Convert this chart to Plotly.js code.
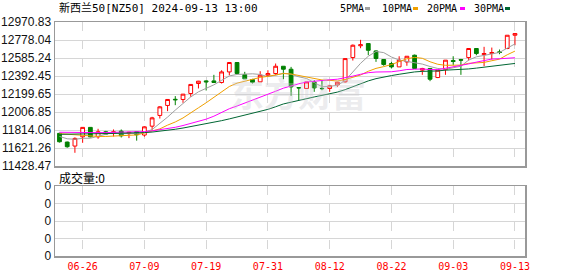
<!DOCTYPE html>
<html>
<head>
<meta charset="utf-8">
<script src="https://cdn.plot.ly/plotly-3.0.1.min.js"></script>
<style>html,body{margin:0;padding:0;background:#fff;}#chart{width:578px;height:276px;}</style>
</head>
<body>
<div id="chart"></div>
<script>
// ---- data ----
const dates = ["2024-06-21","2024-06-24","2024-06-25","2024-06-26","2024-06-27","2024-07-01","2024-07-02","2024-07-03","2024-07-04","2024-07-05",
"2024-07-08","2024-07-09","2024-07-10","2024-07-11","2024-07-12","2024-07-15","2024-07-16","2024-07-17","2024-07-18","2024-07-19",
"2024-07-22","2024-07-23","2024-07-24","2024-07-25","2024-07-26","2024-07-29","2024-07-30","2024-07-31","2024-08-01","2024-08-02",
"2024-08-05","2024-08-06","2024-08-07","2024-08-08","2024-08-09","2024-08-12","2024-08-13","2024-08-14","2024-08-15","2024-08-16",
"2024-08-19","2024-08-20","2024-08-21","2024-08-22","2024-08-23","2024-08-26","2024-08-27","2024-08-28","2024-08-29","2024-08-30",
"2024-09-02","2024-09-03","2024-09-04","2024-09-05","2024-09-06","2024-09-09","2024-09-10","2024-09-11","2024-09-12","2024-09-13"];
const opens = [11778,11685,11642,11741,11842,11741,11795,11780,11802,11775,11795,11760,11855,11970,12077,12143,12141,12205,12312,12340,
12340,12323,12436,12537,12408,12355,12330,12401,12419,12497,12465,12268,12259,12326,12260,12259,12297,12330,12590,12716,
12740,12661,12569,12526,12490,12543,12615,12455,12473,12376,12462,12558,12568,12590,12687,12622,12633,12651,12687,12829];
const highs = [11785,11690,11735,11845,11845,11827,11805,11820,11820,11795,11797,11855,11955,12070,12145,12177,12200,12305,12340,12345,
12405,12454,12540,12540,12437,12362,12444,12454,12526,12497,12490,12270,12329,12347,12347,12294,12330,12582,12730,12780,
12740,12668,12569,12544,12604,12604,12622,12480,12473,12455,12562,12604,12576,12687,12687,12705,12697,12676,12829,12847];
const lows = [11680,11624,11570,11677,11735,11720,11760,11745,11734,11727,11700,11742,11812,11937,12016,12080,12105,12170,12259,12237,
12320,12312,12400,12415,12360,12312,12330,12383,12401,12358,12180,12134,12255,12223,12240,12223,12276,12322,12558,12690,
12616,12544,12502,12473,12490,12502,12473,12405,12337,12370,12405,12512,12405,12558,12615,12498,12569,12626,12680,12722];
const closes = [11688,11635,11724,11842,11741,11795,11770,11795,11752,11790,11763,11848,11944,12062,12141,12138,12198,12302,12337,12330,
12323,12436,12537,12419,12362,12326,12401,12419,12497,12465,12276,12265,12329,12265,12257,12287,12326,12579,12722,12727,
12668,12580,12516,12490,12562,12604,12473,12473,12358,12455,12562,12548,12562,12687,12633,12633,12644,12644,12829,12847];
const ma5 = [11745,11720,11715,11725,11726,11747,11774,11789,11771,11780,11774,11790,11819,11881,11952,12027,12097,12168,12223,12261,
12298,12346,12393,12409,12415,12416,12409,12385,12401,12422,12412,12384,12366,12320,12278,12281,12293,12343,12434,12528,
12604,12655,12643,12596,12563,12550,12529,12520,12494,12473,12464,12479,12497,12563,12598,12613,12632,12645,12691,12736];
const ma10 = [11775,11768,11760,11755,11748,11745,11745,11748,11748,11753,11761,11782,11804,11826,11866,11900,11943,11994,12052,12106,
12162,12221,12280,12316,12338,12357,12377,12389,12405,12419,12414,12397,12376,12361,12350,12346,12339,12355,12377,12403,
12443,12474,12493,12515,12546,12577,12592,12582,12545,12518,12507,12504,12509,12528,12536,12538,12556,12573,12620,12659];
const ma20 = [11790,11788,11785,11785,11785,11786,11787,11788,11788,11790,11792,11797,11805,11815,11828,11843,11862,11884,11907,11930,
11962,12002,12042,12071,12102,12129,12160,12191,12229,12262,12288,12309,12328,12338,12344,12352,12358,12372,12391,12411,
12428,12435,12434,12438,12448,12462,12465,12468,12461,12461,12475,12489,12501,12522,12541,12558,12574,12577,12582,12588];
const ma30 = [11768,11768,11770,11772,11773,11775,11776,11777,11778,11780,11782,11786,11792,11800,11810,11822,11835,11850,11864,11880,
11896,11914,11933,11953,11972,11990,12010,12035,12063,12093,12112,12133,12153,12168,12185,12201,12220,12246,12278,12309,
12340,12364,12383,12397,12411,12427,12436,12442,12442,12447,12455,12458,12459,12468,12477,12487,12495,12503,12514,12527];
const volumes = new Array(60).fill(0);
const priceTicks = [11428.47,11621.26,11814.06,12006.85,12199.65,12392.45,12585.24,12778.04,12970.83];
const priceTickText = ["11428.47","11621.26","11814.06","12006.85","12199.65","12392.45","12585.24","12778.04","12970.83"];
const dateTicks = ["2024-06-26","2024-07-09","2024-07-19","2024-07-31","2024-08-12","2024-08-22","2024-09-03","2024-09-13"];
const dateTickText = ["06-26","07-09","07-19","07-31","08-12","08-22","09-03","09-13"];
const volTicks = [0,1,2,3,4];
const volTickText = ["0","0","0","0","0"];
const titleText = "新西兰50[NZ50] 2024-09-13 13:00";
const volTitle = "成交量:0";
const legendNames = ["5PMA","10PMA","20PMA","30PMA"];
const maColors = ["#a0a0a0","#f0a000","#ff00ff","#006633"];

// ---- layout helpers (pixel -> paper) ----
const W = 578, H = 276, ML = 55, MR = 53, MT = 22, MB = 20;
const PW = W - ML - MR, PH = H - MT - MB;
const px = p => (p - ML) / PW;
const py = p => (H - MB - p) / PH;

const traces = [];
traces.push({
  type: 'candlestick', x: dates, open: opens, high: highs, low: lows, close: closes,
  xaxis: 'x', yaxis: 'y',
  increasing: {line: {color: '#ff0000', width: 1}, fillcolor: '#ffffff'},
  decreasing: {line: {color: '#008000', width: 1}, fillcolor: '#008000'},
  whiskerwidth: 0, hoverinfo: 'skip', showlegend: false
});
[ma5, ma10, ma20, ma30].forEach((m, k) => {
  traces.push({type: 'scatter', mode: 'lines', x: dates, y: m, xaxis: 'x', yaxis: 'y',
    line: {color: maColors[k], width: 1}, hoverinfo: 'skip', showlegend: false});
});
traces.push({type: 'bar', x: dates, y: volumes, xaxis: 'x2', yaxis: 'y2',
  marker: {color: '#008000'}, hoverinfo: 'skip', showlegend: false});

const xr = [-0.58, 60.3];
const gridC = '#d6d6d6', lineC = '#999999';
const annotations = [
  {text: titleText, xref: 'paper', yref: 'paper', x: px(57), y: py(8), xanchor: 'left', yanchor: 'middle',
   showarrow: false, font: {family: 'DejaVu Sans Mono, Noto Sans CJK SC', size: 11, color: '#000'}},
  {text: volTitle, xref: 'paper', yref: 'paper', x: px(57), y: py(177), xanchor: 'left', yanchor: 'middle',
   showarrow: false, font: {family: 'Noto Sans CJK SC', size: 12, color: '#000'}},
  {text: '东方财富', xref: 'paper', yref: 'paper', x: px(298), y: py(92), xanchor: 'center', yanchor: 'middle',
   showarrow: false, font: {family: 'Noto Sans CJK SC', size: 34, color: 'rgba(200,200,206,0.35)', weight: 'bold'}}
];
const legX = [338, 380, 425, 472];
const sqX = [365, 413, 460, 505];
const shapes = [];
legendNames.forEach((n, k) => {
  annotations.push({text: n, xref: 'paper', yref: 'paper', x: px(legX[k]), y: py(8.5), xanchor: 'left', yanchor: 'middle',
    showarrow: false, font: {family: 'DejaVu Sans Mono', size: 10, color: '#000'}});
  shapes.push({type: 'rect', xref: 'paper', yref: 'paper', x0: px(sqX[k]), x1: px(sqX[k] + 5), y0: py(10), y1: py(7),
    line: {width: 0}, fillcolor: maColors[k]});
});

const layout = {
  width: W, height: H, margin: {l: ML, r: MR, t: MT, b: MB},
  paper_bgcolor: '#fff', plot_bgcolor: '#fff', showlegend: false, hovermode: false,
  xaxis: {type: 'category', range: xr, domain: [0, 1], anchor: 'y', rangeslider: {visible: false},
    tickvals: dateTicks, ticktext: dateTickText, showticklabels: false, ticks: '',
    showgrid: true, gridcolor: gridC, griddash: 'dash', gridwidth: 1,
    showline: true, mirror: true, linecolor: lineC, linewidth: 1.5, zeroline: false},
  yaxis: {domain: [py(166), 1], range: [11428.47, 12970.83], anchor: 'x',
    tickvals: priceTicks, ticktext: priceTickText, ticks: '',
    tickfont: {family: 'Liberation Sans, Arial', size: 12, color: '#111'},
    showgrid: true, gridcolor: gridC, gridwidth: 1, zeroline: false,
    showline: true, mirror: true, linecolor: lineC, linewidth: 1.5},
  xaxis2: {type: 'category', range: xr, domain: [0, 1], anchor: 'y2',
    tickvals: dateTicks, ticktext: dateTickText, ticks: '',
    tickfont: {family: 'DejaVu Sans Mono', size: 10, color: '#ff0000'},
    showgrid: true, gridcolor: gridC, griddash: 'dash', gridwidth: 1,
    showline: true, mirror: true, linecolor: lineC, linewidth: 1.5, zeroline: false},
  yaxis2: {domain: [0, py(186)], range: [0, 4], anchor: 'x2',
    tickvals: volTicks, ticktext: volTickText, ticks: '',
    tickfont: {family: 'Liberation Sans, Arial', size: 12, color: '#111'},
    showgrid: true, gridcolor: gridC, gridwidth: 1, zeroline: false,
    showline: true, mirror: true, linecolor: lineC, linewidth: 1.5},
  annotations: annotations, shapes: shapes
};
Plotly.newPlot('chart', traces, layout, {displayModeBar: false, staticPlot: true});
</script>
</body>
</html>
